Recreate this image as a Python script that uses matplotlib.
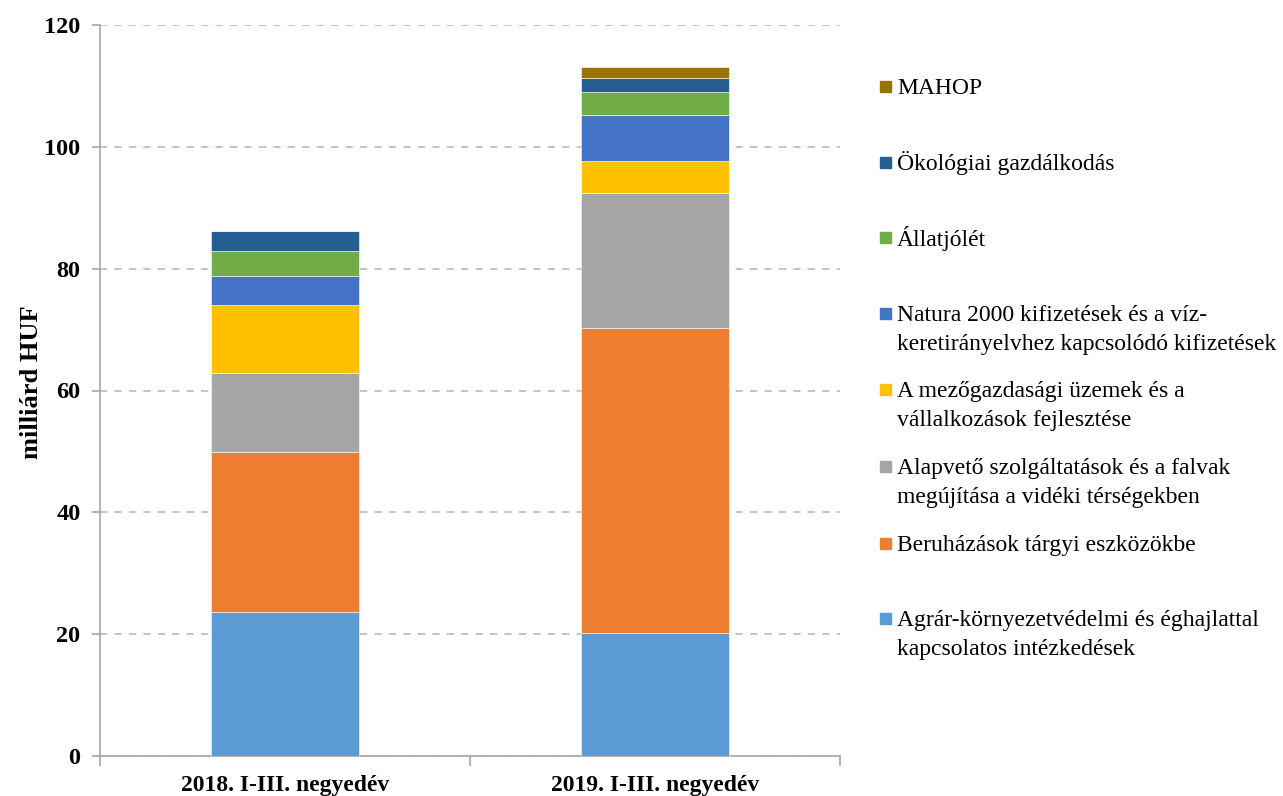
import matplotlib.pyplot as plt
from matplotlib.patches import Rectangle

plt.rcParams['font.family'] = ['Liberation Serif', 'DejaVu Serif']

categories = ["2018. I-III. negyedév", "2019. I-III. negyedév"]

# series, bottom to top of the stack
series_names = [
    "Agrár-környezetvédelmi és éghajlattal\nkapcsolatos intézkedések",
    "Beruházások tárgyi eszközökbe",
    "Alapvető szolgáltatások és a falvak\nmegújítása a vidéki térségekben",
    "A mezőgazdasági üzemek és a\nvállalkozások fejlesztése",
    "Natura 2000 kifizetések és a víz-\nkeretirányelvhez kapcsolódó kifizetések",
    "Állatjólét",
    "Ökológiai gazdálkodás",
    "MAHOP",
]
agrar = [23.6, 20.2]
beruhazas = [26.25, 50.0]
alapveto = [13.0, 22.15]
mezogazd = [11.2, 5.25]
natura = [4.7, 7.7]
allatjolet = [4.2, 3.75]
okologiai = [3.3, 2.25]
mahop = [0.0, 1.8]
values = [agrar, beruhazas, alapveto, mezogazd, natura, allatjolet, okologiai, mahop]

colors = ["#5B9BD5", "#ED7D31", "#A5A5A5", "#FFC000", "#4472C4", "#70AD47", "#255E91", "#997300"]

fig = plt.figure(figsize=(12.83, 7.96), dpi=100)
ax = fig.add_axes([100 / 1283, 40 / 796, 740 / 1283, 731 / 796])

x = range(len(categories))
bottom = [0.0, 0.0]
for vals, col in zip(values, colors):
    ax.bar(x, vals, width=0.4, bottom=bottom, color=col, edgecolor="white", linewidth=0.4, zorder=3)
    bottom = [b + v for b, v in zip(bottom, vals)]

ax.set_xlim(-0.5, 1.5)
ax.set_ylim(0, 120)
ax.set_yticks(range(0, 121, 20))
ax.yaxis.grid(True, linestyle=(0, (4, 4)), color="#BFBFBF", linewidth=1.3, zorder=0)
ax.set_axisbelow(True)

for s in ["top", "right"]:
    ax.spines[s].set_visible(False)
for s in ["left", "bottom"]:
    ax.spines[s].set_color("#A6A6A6")
    ax.spines[s].set_linewidth(1.2)

ax.set_xticks([-0.5, 0.5, 1.5])
ax.set_xticklabels([])
ax.set_xticks([0, 1], minor=True)
ax.set_xticklabels(categories, minor=True, fontsize=17, fontweight="bold")
ax.tick_params(axis="x", which="major", length=7, color="#A6A6A6", width=1.2)
ax.tick_params(axis="x", which="minor", length=0, pad=14)
ax.tick_params(axis="y", length=6, color="#A6A6A6", width=1.2, labelsize=17.5, pad=8)
for lab in ax.get_yticklabels():
    lab.set_fontweight("bold")

ax.set_ylabel("milliárd HUF", fontsize=19, fontweight="bold")
ax.yaxis.set_label_coords(-0.077, (756 - 382) / 731)

# legend drawn by hand, top entry first (square centres in pixels)
legend_y = [86, 162, 237.5, 313, 389, 466, 543, 618]
for name, col, yy in zip(series_names[::-1], colors[::-1], legend_y):
    fig.patches.append(Rectangle((880 / 1283, 1 - (yy + 5.5) / 796), 11 / 1283, 11 / 796,
                                 transform=fig.transFigure, color=col))
    for i, line in enumerate(name.split("\n")):
        fig.text(897 / 1283, 1 - (yy + 8 + i * 29.3) / 796, line, fontsize=17,
                 va="baseline", ha="left")

fig.savefig("out.png", dpi=100)
